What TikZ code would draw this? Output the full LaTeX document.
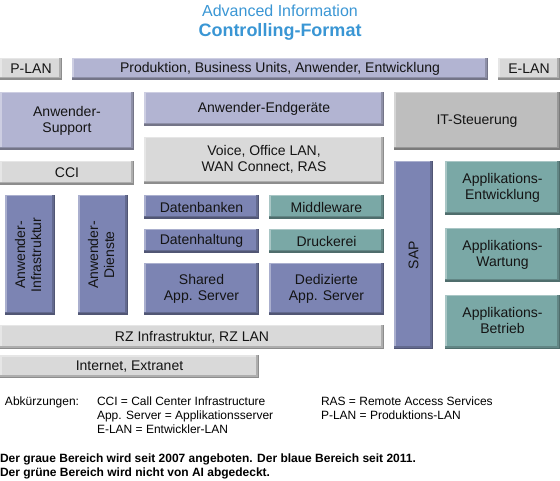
\documentclass[tikz,border=0pt]{standalone}
\usepackage{fontspec}
\setmainfont{Liberation Sans}
\definecolor{lav}{HTML}{B2B4D2}
\definecolor{blu}{HTML}{7C84B3}
\definecolor{tea}{HTML}{7AA8A6}
\definecolor{lgr}{HTML}{D9D9D9}
\definecolor{mgr}{HTML}{BEBEBE}
\definecolor{ttl}{HTML}{3A96D4}
\tikzset{
  bx/.style={rectangle, inner sep=0pt, outer sep=0pt, fill=#1, align=center,
    font=\fontsize{14}{16}\selectfont, text=black!92,
    path picture={
      \fill[#1!65!white] (path picture bounding box.north west) rectangle ([yshift=-1.5pt]path picture bounding box.north east);
      \fill[#1!65!white] (path picture bounding box.north west) rectangle ([xshift=1.5pt]path picture bounding box.south west);
      \fill[#1!80!black] ([yshift=3pt]path picture bounding box.south west) rectangle (path picture bounding box.south east);
      \fill[#1!80!black] ([xshift=-3pt]path picture bounding box.north east) rectangle (path picture bounding box.south east);
      \fill[#1!65!black] ([yshift=1.5pt]path picture bounding box.south west) rectangle (path picture bounding box.south east);
      \fill[#1!65!black] ([xshift=-1.5pt]path picture bounding box.north east) rectangle (path picture bounding box.south east);
    }},
  sz/.style 2 args={minimum width=#1pt, minimum height=#2pt},
  ft/.style={inner sep=0pt, outer sep=0pt, font=\fontsize{12}{14}\selectfont, text=black},
  fb/.style={inner sep=0pt, outer sep=0pt, font=\fontsize{12}{14}\selectfont\bfseries, text=black},
}
\newcommand{\twol}[2]{\begin{tabular}{@{}c@{}}#1\\#2\end{tabular}}
\begin{document}
\begin{tikzpicture}[x=1pt, y=-1pt]
\useasboundingbox (0,0) rectangle (560,481);
% title
\node[inner sep=0pt, anchor=base, font=\fontsize{16}{18}\selectfont, text=ttl] (t1) at (280,16.5) {Advanced Information};
\node[inner sep=0pt, anchor=base, font=\fontsize{18}{20}\selectfont\bfseries, text=ttl] (t2) at (280,37) {Controlling-Format};
% row 1
\node[bx=lgr, sz={62}{22}] (plan) at (31,69) {P-LAN};
\node[bx=lav, sz={416}{22}] (prod) at (280,69) {Produktion, Business Units, Anwender, Entwicklung};
\node[bx=lgr, sz={62}{22}] (elan) at (529,69) {E-LAN};
% row 2
\node[bx=lav, sz={134}{58}] (asup) at (67,121) {\twol{Anwender-}{Support}};
\node[bx=lav, sz={240}{34}] (aend) at (264,109) {Anwender-Endger\"ate};
\node[bx=mgr, sz={166}{58}] (itst) at (477,121) {IT-Steuerung};
\node[bx=lgr, sz={240}{47}] (voice) at (264,160.5) {\twol{Voice, Office LAN,}{WAN Connect, RAS}};
\node[bx=lgr, sz={134}{24}] (cci) at (67,173) {CCI};
% middle
\node[bx=blu, sz={50}{120}] (ainf) at (30,255) {\rotatebox{90}{\twol{Anwender-}{Infrastruktur}}};
\node[bx=blu, sz={50}{120}] (adie) at (103,255) {\rotatebox{90}{\twol{Anwender-}{Dienste}}};
\node[bx=blu, sz={115}{24}] (datb) at (201.5,207) {Datenbanken};
\node[bx=tea, sz={115}{24}] (midw) at (326.5,207) {Middleware};
\node[bx=blu, sz={115}{24}] (dath) at (201.5,241) {Datenhaltung};
\node[bx=tea, sz={115}{24}] (druck) at (326.5,241) {Druckerei};
\node[bx=blu, sz={115}{52}] (shar) at (201.5,289) {\twol{Shared}{App. Server}};
\node[bx=blu, sz={115}{52}] (dedi) at (326.5,289) {\twol{Dedizierte}{App. Server}};
\node[bx=lgr, sz={384}{24}] (rz) at (192,337) {RZ Infrastruktur, RZ LAN};
\node[bx=lgr, sz={259}{23}] (inet) at (129.5,366.5) {Internet, Extranet};
% right
\node[bx=blu, sz={39}{188}] (sap) at (413.5,255) {\rotatebox{90}{SAP}};
\node[bx=tea, sz={115}{54}] (aentw) at (502.5,188) {\twol{Applikations-}{Entwicklung}};
\node[bx=tea, sz={115}{54}] (awart) at (502.5,255) {\twol{Applikations-}{Wartung}};
\node[bx=tea, sz={115}{54}] (abetr) at (502.5,322) {\twol{Applikations-}{Betrieb}};
% footer
\node[ft, anchor=base west] (abk) at (5,405) {Abk\"urzungen:};
\node[ft, anchor=base west] (f1) at (97,405) {CCI = Call Center Infrastructure};
\node[ft, anchor=base west] (f2) at (97,419) {App. Server = Applikationsserver};
\node[ft, anchor=base west] (f3) at (97,433) {E-LAN = Entwickler-LAN};
\node[ft, anchor=base west] (f4) at (321,405) {RAS = Remote Access Services};
\node[ft, anchor=base west] (f5) at (321,419) {P-LAN = Produktions-LAN};
\node[fb, anchor=base west] (b1) at (0,462) {Der graue Bereich wird seit 2007 angeboten. Der blaue Bereich seit 2011.};
\node[fb, anchor=base west] (b2) at (0,476) {Der gr\"une Bereich wird nicht von AI abgedeckt.};
\end{tikzpicture}
\end{document}
